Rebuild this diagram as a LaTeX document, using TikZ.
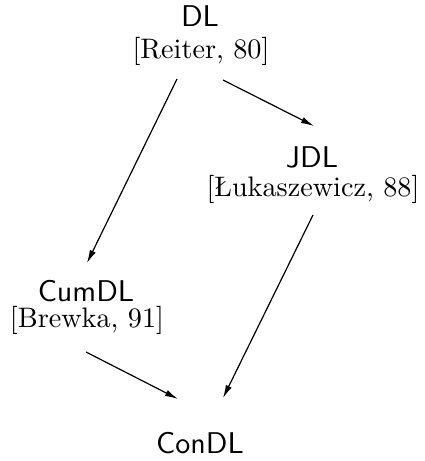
\documentclass[tikz,border=0pt]{standalone}
\usetikzlibrary{arrows.meta,calc}

% concept names in sans, sources in roman
\newcommand\conceptlabel[1]{\scalebox{1.5}{\fontsize{10}{12}\selectfont\sffamily #1}}
\newcommand\sourcelabel[1]{\scalebox{1.41}{\fontsize{10}{12}\selectfont #1}}

\tikzset{
  concept/.style={inner sep=0pt},
  source/.style={inner sep=0pt},
  link/.style={line width=0.6pt, -{Latex[length=6.5pt,width=3.2pt]}},
}

\begin{document}
\begin{tikzpicture}[x=0.5pt,y=-0.5pt]
  \useasboundingbox (0,0) rectangle (424,461);

  \node[concept] (DL)     at (200,16)  {\conceptlabel{DL}};
  \node[source]  (DLs)    at (201,51)  {\sourcelabel{[Reiter, 80]}};

  \node[concept] (JDL)    at (312,157) {\conceptlabel{JDL}};
  \node[source]  (JDLs)   at (313,189) {\sourcelabel{[Łukaszewicz, 88]}};

  \node[concept] (CumDL)  at (86,291)  {\conceptlabel{CumDL}};
  \node[source]  (CumDLs) at (87,320)  {\sourcelabel{[Brewka, 91]}};

  \node[concept] (ConDL)  at (200,443) {\conceptlabel{ConDL}};

  \draw[link] ($(DLs)+(-24,28)$)   -- ($(CumDL)+(1,-28)$);
  \draw[link] ($(DLs)+(22,29)$)    -- ($(JDL)+(2,-31)$);
  \draw[link] ($(JDLs)+(0,26)$)    -- ($(ConDL)+(23,-45)$);
  \draw[link] ($(CumDLs)+(-1,32)$) -- ($(ConDL)+(-22,-44)$);
\end{tikzpicture}
\end{document}
